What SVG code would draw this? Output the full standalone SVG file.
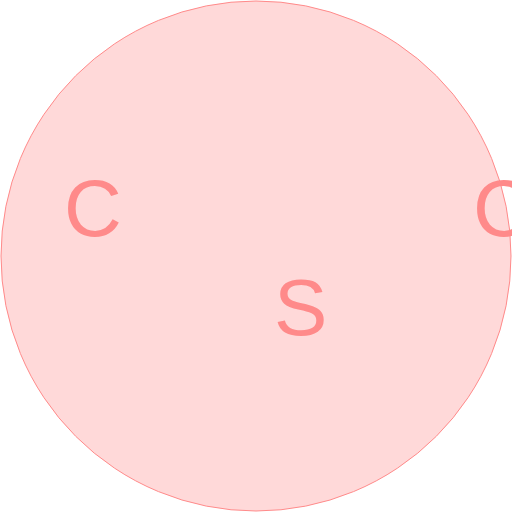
<svg xmlns="http://www.w3.org/2000/svg" width="512" height="512" viewBox="0 0 512 512">
<style>
.lbl{font-family:"Liberation Sans",Arial,sans-serif;font-size:80px;fill:#ff8a8a}
</style>
<g id="set">
<circle cx="256" cy="256" r="255" fill="#ffd9d9" stroke="#ff8a8a" stroke-width="1"/>
</g>
<g id="labels">
<text class="lbl" x="64" y="236">C</text>
<text class="lbl" x="473" y="236">C</text>
<text class="lbl" x="274" y="335">S</text>
</g>
</svg>
